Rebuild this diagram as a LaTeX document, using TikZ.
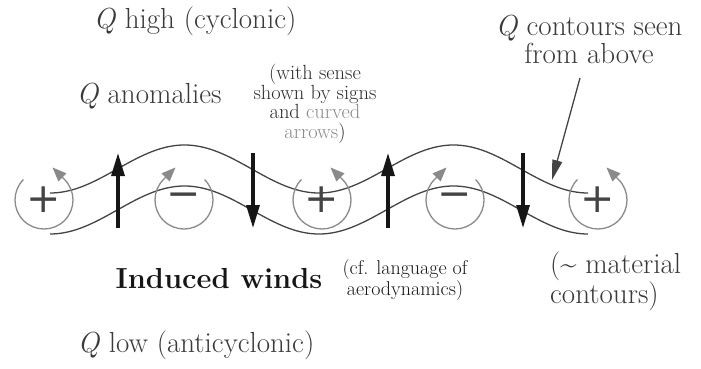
\documentclass[tikz,border=0pt]{standalone}
\usepackage{fontspec}
\newfontfamily\signfont{DejaVu Sans}
\usetikzlibrary{arrows.meta}
\definecolor{txtgray}{HTML}{3A3A3A}
\definecolor{circgray}{HTML}{8A8A8A}
\definecolor{wavegray}{HTML}{444444}
\definecolor{windblack}{HTML}{161616}
\begin{document}
\begin{tikzpicture}[x=1pt,y=1pt,
  lbl/.style={inner sep=0pt, text=txtgray, font=\fontsize{29}{28}\selectfont},
  smalllbl/.style={inner sep=0pt, text=windblack!90, align=center, font=\fontsize{20.5}{19.5}\selectfont},
  cflbl/.style={inner sep=0pt, text=windblack, align=center, font=\fontsize{20}{18.5}\selectfont},
  signlbl/.style={inner sep=0pt, text=wavegray, font=\signfont\fontsize{41}{41}\selectfont},
  wave/.style={draw=wavegray, line width=1.3pt},
  circarrow/.style={draw=circgray, line width=1.3pt, -{Triangle[length=14pt,width=11pt]}},
  wind/.style={draw=windblack, line width=3.2pt, -{Triangle[length=23pt,width=13pt]}},
  pointer/.style={draw=wavegray, line width=1.3pt, -{Triangle[length=20pt,width=10pt]}}
]
\useasboundingbox (0,0) rectangle (701,368);

% wavy material contours
\draw[wave] plot[domain=0:720, samples=145, smooth] ({50+0.747222*\x}, {199-24*cos(\x)});
\draw[wave] plot[domain=0:720, samples=145, smooth] ({50+0.747222*\x}, {158-24*cos(\x)});

% anomaly centres
\coordinate (c1) at (44,168);
\coordinate (c2) at (184,168);
\coordinate (c3) at (322,168);
\coordinate (c4) at (455,168);
\coordinate (c5) at (598,168);

% curved arrows: + counterclockwise, - clockwise
\draw[circarrow] (c1) ++(135:29) arc[start angle=135, end angle=405, radius=29] -- ++(135:17);
\draw[circarrow] (c3) ++(135:29) arc[start angle=135, end angle=405, radius=29] -- ++(135:17);
\draw[circarrow] (c5) ++(135:29) arc[start angle=135, end angle=405, radius=29] -- ++(135:17);
\draw[circarrow] (c2) ++(45:29) arc[start angle=45, end angle=-225, radius=29] -- ++(45:17);
\draw[circarrow] (c4) ++(45:29) arc[start angle=45, end angle=-225, radius=29] -- ++(45:17);

% signs
\node[signlbl] (s1) at (c1) {+};
\node[signlbl] (s2) at (c2) {−};
\node[signlbl] (s3) at (c3) {+};
\node[signlbl] (s4) at (c4) {−};
\node[signlbl] (s5) at (c5) {+};

% induced winds
\coordinate (w1a) at (118,140); \coordinate (w1b) at (118,215);
\coordinate (w2a) at (253,215); \coordinate (w2b) at (253,140);
\coordinate (w3a) at (388,140); \coordinate (w3b) at (388,215);
\coordinate (w4a) at (523,215); \coordinate (w4b) at (523,140);
\draw[wind] (w1a) -- (w1b);
\draw[wind] (w2a) -- (w2b);
\draw[wind] (w3a) -- (w3b);
\draw[wind] (w4a) -- (w4b);

% labels
\node[lbl, anchor=base] (qhigh) at (195,340) {\textit{Q} high (cyclonic)};
\node[lbl, anchor=base] (qanom) at (149,265) {\textit{Q} anomalies};
\node[smalllbl] (sense) at (315,264) {(with sense\\shown by signs\\and \textcolor{circgray}{curved}\\\textcolor{circgray}{arrows})};
\node[lbl, align=center] (contours) at (589,329) {\textit{Q} contours seen\\from above};
\node[lbl, anchor=base, text=windblack, font=\bfseries\fontsize{29}{28}\selectfont] (induced) at (219,80) {Induced winds};
\node[cflbl] (cf) at (405,88) {(cf. language of\\aerodynamics)};
\node[lbl, align=left, anchor=west] (material) at (550,86.5) {(\textasciitilde{} material\\contours)};
\node[lbl, anchor=base] (qlow) at (196,16) {\textit{Q} low (anticyclonic)};

% pointer from contour label
\coordinate (ptrtail) at (580,290);
\coordinate (ptrtip) at (552,188);
\draw[pointer] (ptrtail) -- (ptrtip);
\end{tikzpicture}
\end{document}
